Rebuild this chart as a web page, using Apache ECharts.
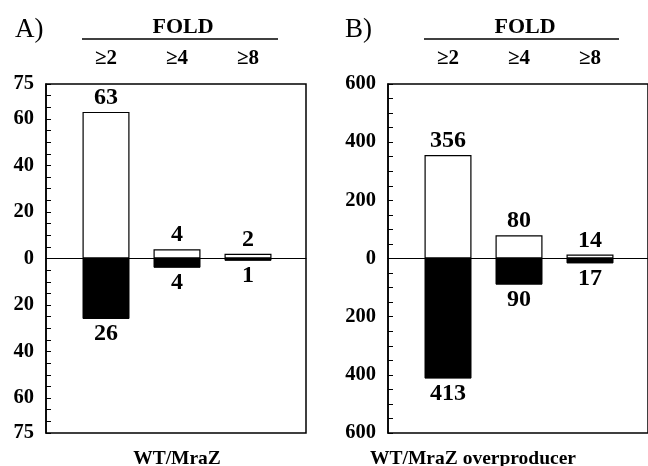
<!DOCTYPE html>
<html><head><meta charset="utf-8">
<script src="https://cdn.jsdelivr.net/npm/echarts@6/dist/echarts.min.js"></script>
<style>html,body{margin:0;padding:0;background:#fff}#c{width:648px;height:466px}</style>
</head><body><div id="c"></div>
<script>
const categories = ['≥2', '≥4', '≥8'];
const upA = [63, 4, 2];
const downA = [26, 4, 1];
const upB = [356, 80, 14];
const downB = [413, 90, 17];
const tickLabelsA = [0, 20, 40, 60, 75];
const tickLabelsB = [0, 200, 400, 600];
const panelLetters = ['A)', 'B)'];
const panelTitles = ['WT/MraZ', 'WT/MraZ overproducer'];
const foldLabel = 'FOLD';

const FONT = 'Liberation Serif';
const chart = echarts.init(document.getElementById('c'), null, {renderer: 'canvas'});

function frameGrid(left, width) {
  return {left: left, top: 84, width: width, height: 349, show: true, borderColor: '#000', borderWidth: 1.5, backgroundColor: 'transparent', containLabel: false};
}
function barGrid(left) {
  return {left: left + 24.5, top: 84, width: 213, height: 349, containLabel: false};
}
const panels = [
  {left: 46, width: 260, max: 75, step: 5, labels: tickLabelsA, up: upA, down: downA},
  {left: 388, width: 260, max: 600, step: 50, labels: tickLabelsB, up: upB, down: downB}
];

const grid = [], xAxis = [], yAxis = [], series = [];
panels.forEach((p, i) => {
  grid.push(frameGrid(p.left, p.width));
  grid.push(barGrid(p.left));
  const fg = i * 2, bg = i * 2 + 1;
  xAxis.push({gridIndex: fg, type: 'value', min: 0, max: 1, axisLine: {show: true, onZero: true, lineStyle: {color: '#000', width: 1}}, axisTick: {show: false}, axisLabel: {show: false}, splitLine: {show: false}});
  xAxis.push({gridIndex: bg, type: 'category', data: categories, position: 'top', axisLine: {show: false}, axisTick: {show: false},
    axisLabel: {margin: 15, color: '#000', fontFamily: FONT, fontWeight: 'bold', fontSize: 21}});
  yAxis.push({gridIndex: fg, type: 'value', min: -p.max, max: p.max, interval: p.step,
    axisLine: {show: true, lineStyle: {color: '#000', width: 1.5}},
    axisTick: {show: true, inside: true, length: 5, lineStyle: {color: '#000', width: 1}},
    splitLine: {show: false},
    axisLabel: {show: true, margin: 12, color: '#000', fontFamily: FONT, fontWeight: 'bold', fontSize: 20.5,
      showMinLabel: true, showMaxLabel: true,
      formatter: v => p.labels.indexOf(Math.abs(v)) >= 0 ? String(Math.abs(v)) : ''}});
  yAxis.push({gridIndex: bg, type: 'value', min: -p.max, max: p.max, show: false, splitLine: {show: false}});
  const lbl = {show: true, color: '#000', fontFamily: FONT, fontWeight: 'bold', fontSize: 24, formatter: d => String(Math.abs(d.value))};
  series.push({type: 'bar', xAxisIndex: bg, yAxisIndex: bg, data: p.up, barWidth: 47, barGap: '-100%',
    itemStyle: {color: '#fff', borderColor: '#000', borderWidth: 1.2},
    label: Object.assign({position: 'top', distance: 2}, lbl), z: 3});
  series.push({type: 'bar', xAxisIndex: bg, yAxisIndex: bg, data: p.down.map(v => -v), barWidth: 47, barGap: '-100%',
    itemStyle: {color: '#000', borderColor: '#000', borderWidth: 1},
    label: Object.assign({position: 'bottom', distance: 3}, lbl), z: 3});
});

const titleStyle = {color: '#000', fontFamily: FONT};
const option = {
  animation: false,
  backgroundColor: '#fff',
  grid, xAxis, yAxis, series,
  title: [
    {text: panelLetters[0], left: 10, top: 11, textStyle: Object.assign({fontSize: 27, fontWeight: 'normal'}, titleStyle)},
    {text: panelLetters[1], left: 340, top: 11, textStyle: Object.assign({fontSize: 27, fontWeight: 'normal'}, titleStyle)},
    {text: foldLabel, left: 178, top: 11, textAlign: 'center', textStyle: Object.assign({fontSize: 22, fontWeight: 'bold'}, titleStyle)},
    {text: foldLabel, left: 520, top: 11, textAlign: 'center', textStyle: Object.assign({fontSize: 22, fontWeight: 'bold'}, titleStyle)},
    {text: panelTitles[0], left: 172, top: 444, textAlign: 'center', textStyle: Object.assign({fontSize: 19.5, fontWeight: 'bold'}, titleStyle)},
    {text: panelTitles[1], left: 468, top: 444, textAlign: 'center', textStyle: Object.assign({fontSize: 19.5, fontWeight: 'bold'}, titleStyle)}
  ],
  graphic: [
    {type: 'line', shape: {x1: 82, y1: 39, x2: 278, y2: 39}, style: {stroke: '#000', lineWidth: 1.5}},
    {type: 'line', shape: {x1: 424, y1: 39, x2: 619, y2: 39}, style: {stroke: '#000', lineWidth: 1.5}}
  ]
};
chart.setOption(option);
</script></body></html>
